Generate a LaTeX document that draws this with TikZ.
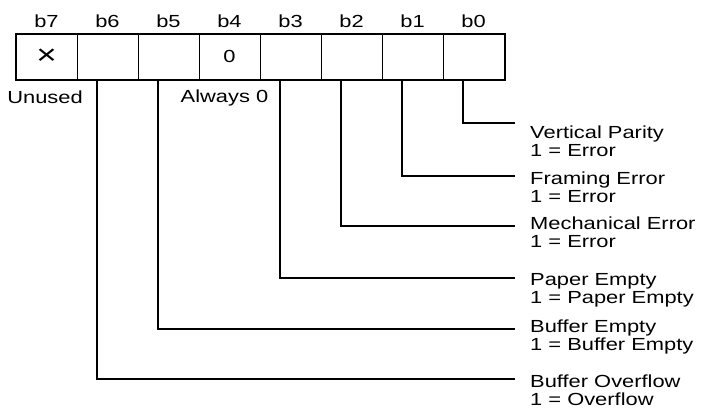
\documentclass[tikz,border=0pt]{standalone}
\usepackage{fontspec}
\setmainfont{Liberation Sans}[FakeStretch=1.25]
\usetikzlibrary{positioning, calc}

\begin{document}
\begin{tikzpicture}[
    x=1pt, y=-1pt,
    every node/.style={font=\fontsize{17.5}{18}\selectfont, inner sep=0pt},
    regcell/.style={draw, line width=1pt, minimum width=61pt, minimum height=45pt},
    desc/.style={anchor=west, align=left},
    conn/.style={line width=1.2pt}
  ]
  \useasboundingbox (0,0) rectangle (704,416);

  % ============================================================
  %  Status register, b7 ... b0
  % ============================================================
  \foreach \b/\val [count=\i from 0] in {7/{\fontsize{28}{28}\selectfont ×}, 6/, 5/, 4/0, 3/, 2/, 1/, 0/} {
    \node[regcell] (c\b) at (46.5+61*\i, 56.5) {\val};
    \node (h\b) at (46.5+61*\i, 21) {b\b};
  }
  \draw[line width=2pt] (c7.north west) rectangle (c0.south east);

  % Notes under the register
  \node (unused) at ($(c7.south)+(-1.5,18)$) {Unused};
  \node (always) at ($(c4.south)+(-5,18)$) {Always 0};

  % ============================================================
  %  Bit descriptions
  % ============================================================
  \node[desc] (d0) at (530,141) {Vertical Parity\\1 = Error};
  \node[desc] (d1) at (530,187) {Framing Error\\1 = Error};
  \node[desc] (d2) at (530,232) {Mechanical Error\\1 = Error};
  \node[desc] (d3) at (530,290) {Paper Empty\\1 = Paper Empty};
  \node[desc] (d5) at (530,337) {Buffer Empty\\1 = Buffer Empty};
  \node[desc] (d6) at (530,390) {Buffer Overflow\\1 = Overflow};

  % Leader lines from the bits to their descriptions
  \foreach \b/\y in {0/123, 1/176, 2/226, 3/278, 5/329, 6/379} {
    \coordinate (e\b) at (515,\y);
    \draw[conn] ([xshift=20.5pt]c\b.south west) |- (e\b);
  }

\end{tikzpicture}
\end{document}
